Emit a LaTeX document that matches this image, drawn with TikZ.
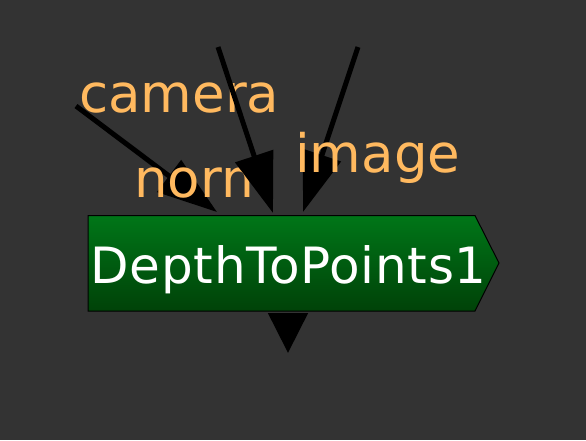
\documentclass[tikz,border=0pt]{standalone}
\usepackage{fontspec}
\setmainfont{DejaVu Sans}
\newfontfamily\titlefont[LetterSpace=1.4]{DejaVu Sans}
\usetikzlibrary{arrows.meta}
\definecolor{bg}{RGB}{51,51,51}
\definecolor{lbl}{RGB}{255,185,95}
\definecolor{gtop}{RGB}{0,118,24}
\definecolor{gbot}{RGB}{0,66,8}
\tikzset{
  edge/.style={draw=black,line width=5pt,-{Triangle[length=60pt,width=39pt]}},
  outedge/.style={draw=black,line width=5pt,-{Triangle[length=40pt,width=39pt]}},
  portlabel/.style={text=lbl,anchor=base west,inner sep=0pt,font=\fontsize{53}{63}\selectfont},
  title/.style={text=white,anchor=base west,inner sep=0pt,font=\titlefont\fontsize{50}{60}\selectfont},
}
\begin{document}
\begin{tikzpicture}[x=1pt,y=-1pt]
\fill[bg] (0,0) rectangle (586,440);
\useasboundingbox (0,0) rectangle (586,440);
% box
\shade[top color=gtop,bottom color=gbot,draw=black,line width=1pt]
  (88,215.5) -- (475,215.5) -- (499,263) -- (475,311) -- (88,311) -- cycle;
\node[title] (box) at (90.5,283) {DepthToPoints1};
% coordinates
\coordinate (s1) at (76,106);
\coordinate (e1) at (217,212);
\coordinate (s2) at (218,47);
\coordinate (e2) at (273,213);
\coordinate (s3) at (358,47);
\coordinate (e3) at (303,212);
\coordinate (o1) at (288,313);
\coordinate (o2) at (288,353);
% edges under labels
\draw[edge] (s1) -- (e1);
\draw[edge] (s3) -- (e3);
% labels
\node[portlabel] (lcam) at (79,112.5) {camera};
\node[portlabel] (lnorm) at (134,197) {norm};
\node[portlabel] (limg) at (295,172) {image};
% edge over labels
\draw[edge] (s2) -- (e2);
% output
\draw[outedge] (o1) -- (o2);
\end{tikzpicture}
\end{document}
